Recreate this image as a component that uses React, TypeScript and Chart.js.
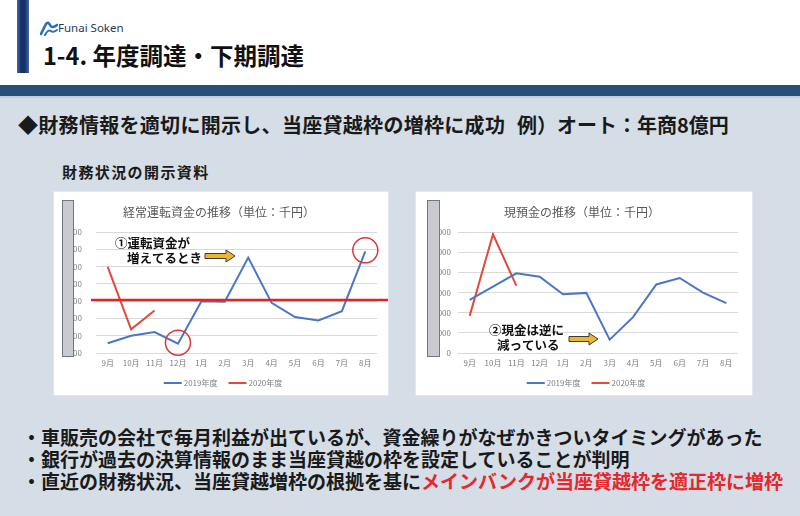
import React, { useEffect, useRef } from 'react';
import { Chart, registerables } from 'chart.js';

Chart.register(...registerables);

const FONT = "'Noto Sans CJK JP', 'Noto Sans', sans-serif";

// ---------- data ----------
const months = ['9月', '10月', '11月', '12月', '1月', '2月', '3月', '4月', '5月', '6月', '7月', '8月'];
const seriesNames = ['2019年度', '2020年度'];

const wcTitle = '経常運転資金の推移（単位：千円）';
const wc2019 = [1560, 2000, 2210, 1540, 4000, 3960, 6520, 3900, 3080, 2880, 3420, 6880];
const wc2020 = [5980, 2370, 3460];
const wcTicks = [1000, 2000, 3000, 4000, 5000, 6000, 7000, 8000];
const wcLimit = 4060;
const wcCircled = ['12月', '8月'];
const wcNote = ['①運転資金が', '増えてるとき'];

const cashTitle = '現預金の推移（単位：千円）';
const cash2019 = [2630, 3290, 3950, 3780, 2910, 2980, 660, 1780, 3400, 3720, 2990, 2470];
const cash2020 = [1840, 5890, 3340];
const cashTicks = [0, 1000, 2000, 3000, 4000, 5000, 6000];
const cashNote = ['②現金は逆に', '減っている'];

const BLUE = '#4a76c4';
const RED = '#de4a3b';

type PanelCfg = {
  title: string;
  d2019: number[];
  d2020: number[];
  ticks: number[];
  width: number;
  height: number;
  padRight: number;
  tickPad: number;
  limit?: number;
  circled?: string[];
  note: string[];
  noteX: [number, number];
  noteY: [number, number];
  arrow: [number, number, number];
  mask: [number, number, number, number];
};

function drawArrow(ctx: CanvasRenderingContext2D, x0: number, x1: number, y: number) {
  const sh = 5, hh = 12, hl = 9;
  ctx.save();
  ctx.beginPath();
  ctx.moveTo(x0, y - sh / 2);
  ctx.lineTo(x1 - hl, y - sh / 2);
  ctx.lineTo(x1 - hl, y - hh / 2);
  ctx.lineTo(x1, y);
  ctx.lineTo(x1 - hl, y + hh / 2);
  ctx.lineTo(x1 - hl, y + sh / 2);
  ctx.lineTo(x0, y + sh / 2);
  ctx.closePath();
  ctx.fillStyle = '#efb52f';
  ctx.fill();
  ctx.strokeStyle = '#3b3b3b';
  ctx.lineWidth = 1;
  ctx.stroke();
  ctx.restore();
}

function ChartPanel({ cfg }: { cfg: PanelCfg }) {
  const ref = useRef<HTMLCanvasElement | null>(null);
  useEffect(() => {
    if (!ref.current) return;
    const overlay = {
      id: 'overlay',
      afterDatasetsDraw(chart: any) {
        const ctx = chart.ctx as CanvasRenderingContext2D;
        const ys = chart.scales.y;
        const xs = chart.scales.x;
        if (cfg.limit !== undefined) {
          const y = ys.getPixelForValue(cfg.limit);
          ctx.save();
          ctx.strokeStyle = '#e02424';
          ctx.lineWidth = 2.5;
          ctx.beginPath();
          ctx.moveTo(chart.chartArea.left - 5, y);
          ctx.lineTo(chart.width, y);
          ctx.stroke();
          ctx.restore();
        }
        if (cfg.circled) {
          ctx.save();
          ctx.strokeStyle = '#d8363c';
          ctx.lineWidth = 1.5;
          cfg.circled.forEach((m) => {
            const i = months.indexOf(m);
            const x = xs.getPixelForValue(i);
            const y = ys.getPixelForValue(cfg.d2019[i]);
            ctx.beginPath();
            ctx.arc(x, y - 1, 12.5, 0, Math.PI * 2);
            ctx.stroke();
          });
          ctx.restore();
        }
      },
      afterDraw(chart: any) {
        const ctx = chart.ctx as CanvasRenderingContext2D;
        ctx.save();
        // title
        ctx.fillStyle = '#595959';
        ctx.font = `12px ${FONT}`;
        ctx.textAlign = 'center';
        ctx.textBaseline = 'middle';
        ctx.fillText(cfg.title, chart.width / 2 - 2, 20);
        // legend
        ctx.font = `8px ${FONT}`;
        const lineLen = 18, gap1 = 2, gap2 = 11;
        const ds = chart.data.datasets;
        const widths = ds.map((d: any) => lineLen + gap1 + ctx.measureText(d.label).width);
        const total = widths.reduce((a: number, b: number) => a + b, 0) + gap2 * (ds.length - 1);
        let lx = chart.width / 2 + 2 - total / 2;
        const ly = 191;
        ds.forEach((d: any, i: number) => {
          ctx.strokeStyle = d.borderColor;
          ctx.lineWidth = 2;
          ctx.beginPath();
          ctx.moveTo(lx, ly);
          ctx.lineTo(lx + lineLen, ly);
          ctx.stroke();
          ctx.fillStyle = '#808080';
          ctx.textAlign = 'left';
          ctx.fillText(d.label, lx + lineLen + gap1, ly);
          lx += widths[i] + gap2;
        });
        // mask over axis labels
        const [mx, my, mw, mh] = cfg.mask;
        ctx.fillStyle = '#c8cacf';
        ctx.fillRect(mx, my, mw, mh);
        ctx.strokeStyle = '#6d7883';
        ctx.lineWidth = 1;
        ctx.strokeRect(mx + 0.5, my + 0.5, mw - 1, mh - 1);
        // note
        ctx.fillStyle = '#111';
        ctx.font = `bold 12.5px ${FONT}`;
        ctx.textAlign = 'left';
        ctx.fillText(cfg.note[0], cfg.noteX[0], cfg.noteY[0]);
        ctx.fillText(cfg.note[1], cfg.noteX[1], cfg.noteY[1]);
        ctx.restore();
        drawArrow(ctx, cfg.arrow[0], cfg.arrow[1], cfg.arrow[2]);
      },
    };
    const chart = new Chart(ref.current, {
      type: 'line',
      data: {
        labels: months,
        datasets: [
          { label: seriesNames[0], data: cfg.d2019, borderColor: BLUE, backgroundColor: BLUE, borderWidth: 2, pointRadius: 0, tension: 0, fill: false },
          { label: seriesNames[1], data: cfg.d2020, borderColor: RED, backgroundColor: RED, borderWidth: 2, pointRadius: 0, tension: 0, fill: false },
        ],
      },
      options: {
        responsive: false,
        animation: false,
        devicePixelRatio: 1,
        layout: { padding: { top: 40, right: cfg.padRight, left: 0, bottom: 0 } },
        plugins: { legend: { display: false }, title: { display: false }, tooltip: { enabled: false } },
        scales: {
          x: {
            offset: true,
            grid: { display: false, drawTicks: false },
            border: { display: false },
            ticks: { color: '#808080', font: { size: 8, family: FONT }, padding: 5, maxRotation: 0, autoSkip: false },
            afterFit: (s: any) => { s.height = 42; },
          },
          y: {
            min: cfg.ticks[0],
            max: cfg.ticks[cfg.ticks.length - 1],
            grid: { color: '#d9d9d9', drawTicks: false },
            border: { display: false },
            afterBuildTicks: (s: any) => { s.ticks = cfg.ticks.map((v) => ({ value: v })); },
            ticks: {
              color: '#808080',
              font: { size: 8, family: FONT },
              padding: cfg.tickPad,
              callback: (v: any) => Number(v).toLocaleString('en-US'),
            },
            afterFit: (s: any) => { s.width = 42; },
          },
        },
      },
      plugins: [overlay],
    } as any);
    return () => chart.destroy();
  }, [cfg]);
  return <canvas ref={ref} width={cfg.width} height={cfg.height} style={{ display: 'block', width: cfg.width, height: cfg.height }} />;
}

const panel1: PanelCfg = {
  title: wcTitle,
  d2019: wc2019,
  d2020: wc2020,
  ticks: wcTicks,
  width: 334,
  height: 203,
  padRight: 11,
  tickPad: 14,
  limit: wcLimit,
  circled: wcCircled,
  note: wcNote,
  noteX: [61, 73],
  noteY: [51, 66],
  arrow: [151, 181, 64],
  mask: [8, 8, 12, 157],
};

const panel2: PanelCfg = {
  title: cashTitle,
  d2019: cash2019,
  d2020: cash2020,
  ticks: cashTicks,
  width: 336,
  height: 203,
  padRight: 14,
  tickPad: 7,
  note: cashNote,
  noteX: [73, 81],
  noteY: [138, 153],
  arrow: [153, 182, 147],
  mask: [11, 8, 13, 157],
};

const abs = (o: React.CSSProperties): React.CSSProperties => ({ position: 'absolute', ...o });

export default function App() {
  return (
    <div style={abs({ left: 0, top: 0, width: 800, height: 516, background: '#d5dde6', overflow: 'hidden', fontFamily: FONT, color: '#1a1a1a' })}>
      <div style={abs({ left: 0, top: 0, width: 800, height: 85, background: '#ffffff' })} />
      <div style={abs({ left: 17, top: 0, width: 12, height: 73, background: 'linear-gradient(to right, #4a679a, #15316a 35%, #15316a 65%, #4a679a)' })} />
      <svg style={abs({ left: 40, top: 20 })} width={18} height={16} viewBox="0 0 18 16">
        <path d="M1 14 L6 4 Q8 1 10 5 Q12 9 17 5" stroke="#2c6fbf" strokeWidth={2.6} fill="none" strokeLinecap="round" />
        <path d="M5 15 Q8 9 11 11 Q13 13 17 10" stroke="#2c6fbf" strokeWidth={2} fill="none" strokeLinecap="round" />
      </svg>
      <div style={abs({ left: 58, top: 21, fontSize: 11.5, lineHeight: '14px', color: '#2b3a55', fontFamily: "'Noto Sans', sans-serif" })}>Funai Soken</div>
      <div style={abs({ left: 43, top: 41, fontSize: 23.5, lineHeight: '28px', fontWeight: 700, color: '#111', whiteSpace: 'pre' })}>1-4. 年度調達・下期調達</div>
      <div style={abs({ left: 0, top: 85, width: 800, height: 11, background: '#26507b' })} />
      <div style={abs({ left: 0, top: 96, width: 800, height: 2, background: '#c4ced9' })} />
      <div style={abs({ left: 18, top: 112, fontSize: 20, lineHeight: '26px', fontWeight: 700, whiteSpace: 'pre', letterSpacing: 0.3 })}>◆財務情報を適切に開示し、当座貸越枠の増枠に成功</div>
      <div style={abs({ left: 517, top: 112, fontSize: 20, lineHeight: '26px', fontWeight: 700, whiteSpace: 'pre' })}>例）オート：年商8億円</div>
      <div style={abs({ left: 62, top: 162, fontSize: 15, lineHeight: '20px', fontWeight: 700, whiteSpace: 'pre', letterSpacing: 1.4 })}>財務状況の開示資料</div>
      <div style={abs({ left: 54, top: 192, width: 334, height: 203, background: '#ffffff', boxShadow: '0 0 0 1px #e4e8ed' })}>
        <ChartPanel cfg={panel1} />
      </div>
      <div style={abs({ left: 416, top: 192, width: 336, height: 203, background: '#ffffff', boxShadow: '0 0 0 1px #e4e8ed' })}>
        <ChartPanel cfg={panel2} />
      </div>
      <div style={abs({ left: 22, top: 426, fontSize: 19, lineHeight: '22px', fontWeight: 700, whiteSpace: 'pre' })}>
        <div>・車販売の会社で毎月利益が出ているが、資金繰りがなぜかきついタイミングがあった</div>
        <div>・銀行が過去の決算情報のまま当座貸越の枠を設定していることが判明</div>
        <div>・直近の財務状況、当座貸越増枠の根拠を基に<span style={{ color: '#e8262b' }}>メインバンクが当座貸越枠を適正枠に増枠</span></div>
      </div>
    </div>
  );
}
